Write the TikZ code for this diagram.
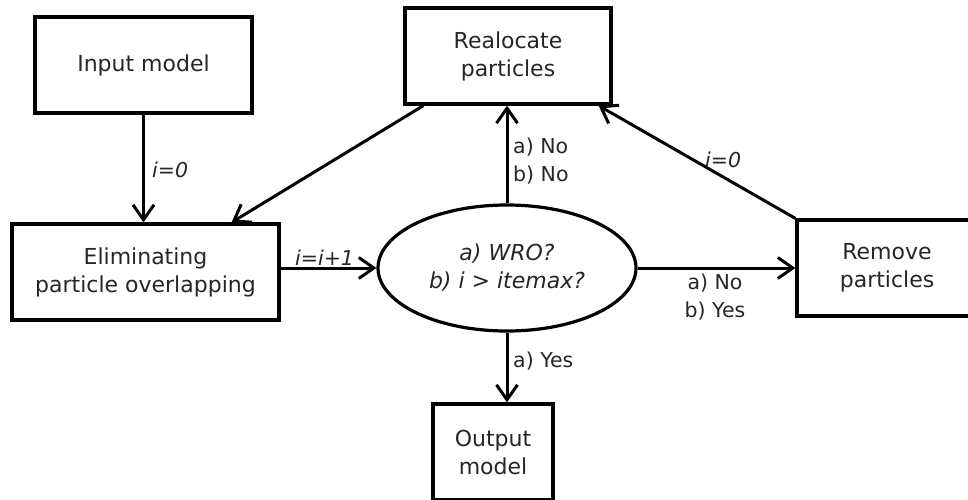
\documentclass[tikz,border=0pt]{standalone}
\usepackage{fontspec}
\setmainfont{DejaVu Sans}
\usetikzlibrary{shapes.geometric,arrows.meta,calc}
\definecolor{txt}{gray}{0.15}
\tikzset{
  box/.style={draw=black,line width=3.2pt,rectangle,minimum height=96pt,inner sep=0pt,
    align=center,text=txt,font=\fontsize{22}{28}\selectfont},
  decision/.style={draw=black,line width=3.2pt,ellipse,minimum width=258pt,minimum height=126pt,
    inner sep=0pt,align=center,text=txt,font=\fontsize{22}{28}\selectfont\itshape},
  flow/.style={line width=3pt,-{Straight Barb[length=15pt,width=21pt,line width=3pt]}},
  lbl/.style={text=txt,font=\fontsize{20.5}{28}\selectfont,inner sep=0pt,align=left},
  ilbl/.style={lbl,font=\fontsize{20.5}{28}\selectfont\itshape}
}
\begin{document}
\begin{tikzpicture}[x=1pt,y=-1pt]
\useasboundingbox (0,0) rectangle (968,499);
% process boxes
\node[box,minimum width=217pt] (input) at (143.5,65) {Input model};
\node[box,minimum width=206pt] (real) at (508,56) {Realocate\\particles};
\node[box,minimum width=267pt] (elim) at (145.5,272) {Eliminating\\particle overlapping};
\node[box,minimum width=180pt] (rem) at (887,268) {Remove\\particles};
\node[box,minimum width=120pt] (out) at (493,452) {Output\\model};
% decision
\node[decision] (ell) at (507,268) {a) WRO?\\b) i > itemax?};
% connectors
\draw[flow] (input.south) -- (input.south |- elim.north);
\draw[flow] ([xshift=20pt]real.south west) -- ([xshift=-49pt]elim.north east);
\draw[flow] (ell.north) -- (ell.north |- real.south);
\draw[flow] (rem.north west) -- ([xshift=-14pt]real.south east);
\draw[flow] (elim.east |- ell.west) -- (ell.west);
\draw[flow] (ell.east) -- (ell.east -| rem.west);
\draw[flow] (ell.south) -- (ell.south |- out.north);
% labels
\node[ilbl,anchor=west] (l1) at (152,170) {i=0};
\node[lbl,anchor=west] (l2) at (513,161) {a) No\\b) No};
\node[ilbl,anchor=west] (l3) at (705,160) {i=0};
\node[ilbl,anchor=west] (l4) at (295,258) {i=i+1};
\node[lbl,align=center] (l5) at (715,297) {a) No\\b) Yes};
\node[lbl,anchor=west] (l6) at (513,361) {a) Yes};
\end{tikzpicture}
\end{document}
